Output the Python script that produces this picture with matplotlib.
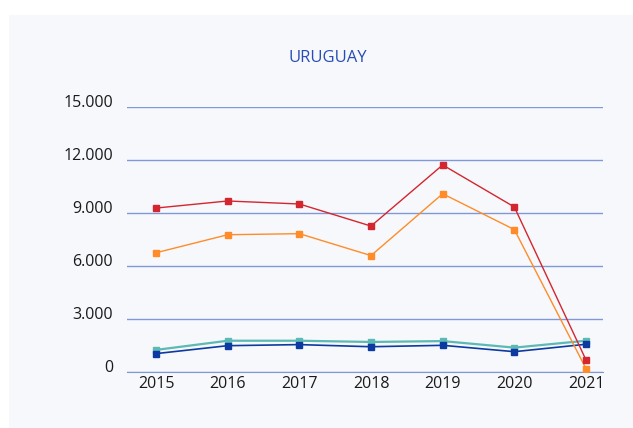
import matplotlib
matplotlib.use("Agg")
import matplotlib.pyplot as plt
import matplotlib.transforms as mtransforms
from matplotlib.patches import Rectangle
from matplotlib.ticker import FuncFormatter
from matplotlib import font_manager

names = {f.name for f in font_manager.fontManager.ttflist}
fam = 'Liberation Sans Narrow' if 'Liberation Sans Narrow' in names else 'Open Sans'
plt.rcParams['font.family'] = [fam, 'DejaVu Sans']

title = "URUGUAY"
years = ["2015", "2016", "2017", "2018", "2019", "2020", "2021"]
red_vals = [9280, 9680, 9510, 8260, 11720, 9340, 680]
orange_vals = [6750, 7770, 7830, 6590, 10090, 8060, 190]
teal_vals = [1250, 1770, 1770, 1700, 1750, 1380, 1770]
navy_vals = [1040, 1490, 1550, 1430, 1510, 1150, 1570]
yticks = [0, 3000, 6000, 9000, 12000, 15000]

fig = plt.figure(figsize=(6.33, 4.28), dpi=100)
fig.patch.set_facecolor('white')
panel = Rectangle((9/633, 0), 1, 1 - 15/428, transform=fig.transFigure,
                  facecolor='#f7f8fc', edgecolor='none', zorder=-10)
fig.add_artist(panel)

ax = fig.add_axes([127/633, 1 - 372/428, (603 - 127)/633, (372 - 107)/428])
ax.set_facecolor('none')
ax.set_zorder(5)

x = list(range(len(years)))
ax.plot(x, teal_vals, color='#5db9b3', lw=1.6, marker='s', ms=4.5, zorder=3)
ax.plot(x, navy_vals, color='#0d3aa0', lw=1.2, marker='s', ms=4.5, zorder=4)
ax.plot(x, orange_vals, color='#ff8c28', lw=1.0, marker='s', ms=4.5, zorder=5)
ax.plot(x, red_vals, color='#d3262e', lw=1.0, marker='s', ms=4.5, zorder=6)

ax.set_ylim(0, 15000)
ax.set_xlim(-0.405, 6.237)
ax.set_yticks(yticks)
ax.yaxis.set_major_formatter(FuncFormatter(lambda v, p: f"{int(v):,}".replace(",", ".")))
ax.set_xticks(x)
ax.set_xticklabels(years)
ax.grid(axis='y', color='#7f99d6', lw=1.0)
ax.set_axisbelow(True)
for s in ['top', 'right', 'left']:
    ax.spines[s].set_visible(False)
ax.spines['bottom'].set_color('#7f99d6')
ax.tick_params(axis='both', length=0, labelsize=11.5, colors='#1a1a1a')
ax.tick_params(axis='y', pad=10)
ax.tick_params(axis='x', pad=3)

off = mtransforms.ScaledTranslation(0, 6/100, fig.dpi_scale_trans)
for lab in ax.get_yticklabels():
    lab.set_transform(lab.get_transform() + off)

fig.text(328/633, 1 - 58/428, title, ha='center', va='center', fontsize=12, color='#2a4db5')

fig.savefig("out.png", dpi=100)
